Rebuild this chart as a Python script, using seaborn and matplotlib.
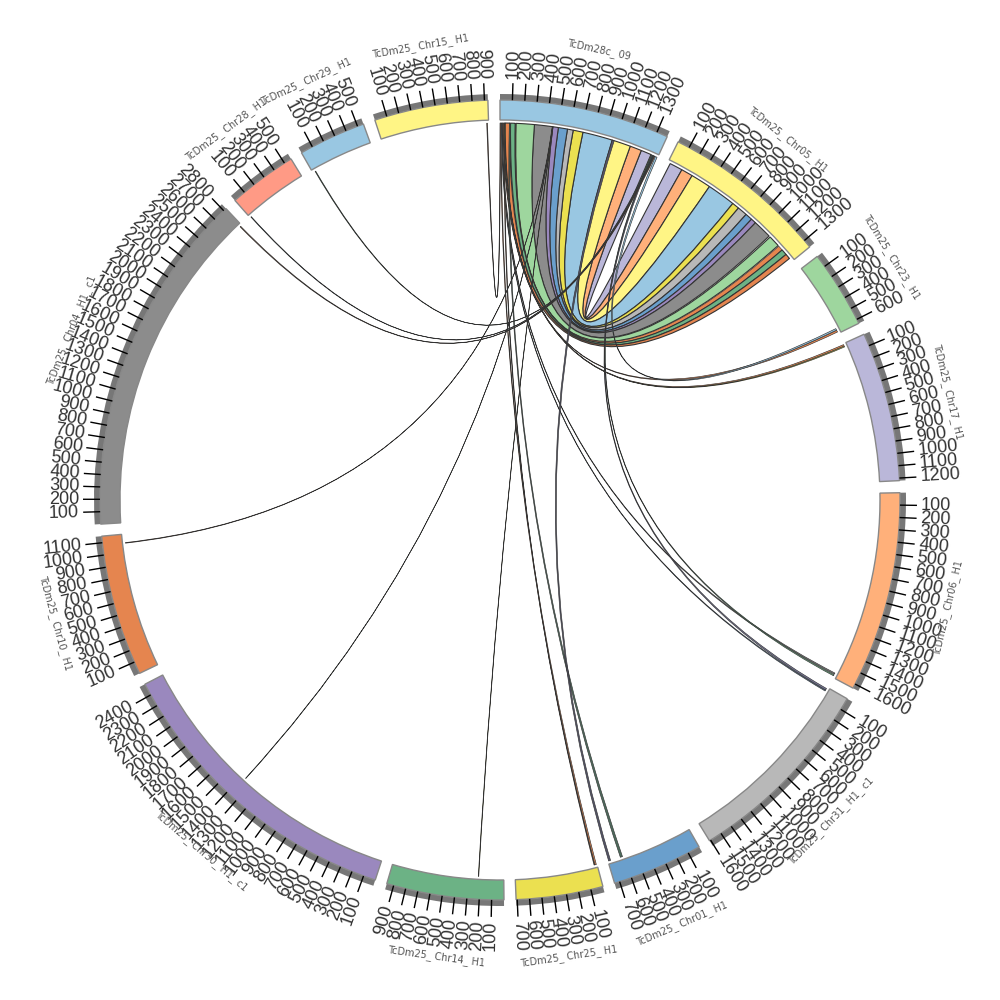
import numpy as np
import matplotlib
matplotlib.use("Agg")
import matplotlib.pyplot as plt
import seaborn as sns
from matplotlib.path import Path
from matplotlib.patches import PathPatch, Wedge
from matplotlib.collections import LineCollection

seg_names = ["TcDm28c_ 09", "TcDm25_ Chr05_ H1", "TcDm25_ Chr23_ H1", "TcDm25_ Chr17_ H1",
             "TcDm25_ Chr06_ H1", "TcDm25_ Chr31_ H1_ c1", "TcDm25_ Chr01_ H1", "TcDm25_ Chr25_ H1",
             "TcDm25_ Chr14_ H1", "TcDm25_ Chr30_ H1_ c1", "TcDm25_ Chr10_ H1", "TcDm25_ Chr04_ H1_ c1",
             "TcDm25_ Chr28_ H1", "TcDm25_ Chr29_ H1", "TcDm25_ Chr15_ H1"]
seg_lengths = [1390, 1367, 636, 1221, 1637, 1610, 743, 709, 957, 2498, 1153, 2825, 563, 551, 928]
seg_colors = ["#99C7E2", "#FFF585", "#9ED69E", "#BAB7D9", "#FFB07A", "#B8B8B8", "#6A9FCC", "#EBE050",
              "#6CB285", "#9A88BE", "#E5854F", "#8C8C8C", "#FF9A85", "#99C7E2", "#FFF585"]

# Links always start on TcDm28c_09 (segment 0)
src_start = [1238, 1137, 974, 715, 630, 580, 501, 453, 295, 137, 130, 90, 43,
             0, 5, 12, 18, 24, 30, 36, 80,
             974, 448, 450, 452,
             1330, 1337, 1344, 1351, 1358, 1370, 40]
src_end = [1328, 1238, 1137, 974, 715, 630, 580, 501, 453, 295, 137, 130, 84,
           5, 12, 18, 24, 30, 36, 43, 90,
           992, 451, 453, 455,
           1337, 1346, 1351, 1358, 1365, 1385, 43]
dst_seg = [1, 1, 1, 1, 1, 1, 1, 1, 1, 1, 1, 1, 1,
           14, 7, 5, 4, 2, 3, 7, 6,
           6, 10, 9, 8,
           4, 5, 13, 12, 11, 2, 3]
dst_start = [22, 135, 236, 411, 658, 720, 805, 867, 912, 1087, 1195, 1238, 1289,
             912, 6, 28, 1596, 606, 8, 20, 613,
             720, 1075, 1362, 214,
             1612, 12, 22, 8, 2806, 590, 22]
dst_end = [135, 236, 411, 658, 720, 805, 867, 912, 1075, 1187, 1238, 1289, 1334,
           918, 18, 36, 1606, 622, 22, 26, 632,
           737, 1080, 1365, 218,
           1622, 26, 28, 13, 2813, 604, 30]
link_colors = ["#BAB7D9", "#FFB07A", "#FFF585", "#99C7E2", "#EBE050", "#B8B8B8", "#6A9FCC", "#9A88BE",
               "#8C8C8C", "#9ED69E", "#E5854F", "#6CB285", "#E5854F",
               "#8C5A3C", "#E5854F", "#6A9FCC", "#8C8C8C", "#E5854F", "#E5854F", "#8C5A3C", "#4E6E5E",
               "#55556A", "#8C5A3C", "#3E7A55", "#9A9A30",
               "#6CB285", "#77779A", "#3E7A55", "#35607A", "#8C5A3C", "#99C7E2", "#EBE050"]

sns.set_theme(style="white")
palette = sns.color_palette(seg_colors)
fig = plt.figure(figsize=(10, 10), dpi=100)
ax = fig.add_axes([0, 0, 1, 1])
ax.set_xlim(-500, 500)
ax.set_ylim(-500, 500)
ax.axis("off")

GAP = 1.735
UNIT = (360 - GAP * len(seg_lengths)) / sum(seg_lengths)
R_LINK, R_IN, R_OUT, R_BAND, R_TICK = 377, 380, 400, 406, 417


def seg_start(i):
    return sum(seg_lengths[:i]) * UNIT + i * GAP


def angle(i, u):
    return seg_start(i) + u * UNIT


def xy(theta, r):
    t = np.deg2rad(theta)
    return np.array([r * np.sin(t), r * np.cos(t)])


for i, name in enumerate(seg_names):
    a0 = seg_start(i)
    a1 = a0 + seg_lengths[i] * UNIT
    ax.add_patch(Wedge((0, 0), R_BAND, 90 - a1, 90 - a0, width=R_BAND - R_OUT, fc="#777777", ec="none", zorder=2))
    ax.add_patch(Wedge((0, 0), R_OUT, 90 - a1, 90 - a0, width=R_OUT - R_IN, fc=palette[i], ec="#888888", lw=1, zorder=3))
    segs = []
    for u in range(100, seg_lengths[i], 100):
        th = angle(i, u)
        segs.append([xy(th, R_OUT), xy(th, R_TICK)])
        x, y = xy(th, 421)
        if th < 180:
            ax.text(x, y, str(u), rotation=90 - th, rotation_mode="anchor", ha="left", va="center",
                    fontsize=13, family="Liberation Sans", color="#333333", zorder=5)
        else:
            ax.text(x, y, str(u), rotation=270 - th, rotation_mode="anchor", ha="right", va="center",
                    fontsize=13, family="Liberation Sans", color="#333333", zorder=5)
    ax.add_collection(LineCollection(segs, colors="black", linewidths=1.0, zorder=4))
    mid = (a0 + a1) / 2
    x, y = xy(mid, 461)
    rot = 180 - mid if 90 < mid < 270 else -mid
    ax.text(x, y, name, rotation=rot, rotation_mode="anchor", ha="center", va="center",
            fontsize=7, color="#555555", zorder=5)


def bezier(th_a, th_b):
    diff = (th_b - th_a + 180) % 360 - 180
    rc = max(0.0, 28 - 0.28 * abs(diff))
    return xy(th_a + diff / 2, rc)


for k in range(len(src_start)):
    d = dst_seg[k]
    a1, a2 = angle(0, src_start[k]), angle(0, src_end[k])
    b1, b2 = angle(d, dst_start[k]), angle(d, dst_end[k])
    verts = [xy(a1, R_LINK)]
    codes = [Path.MOVETO]
    for th in np.linspace(a1, a2, 8)[1:]:
        verts.append(xy(th, R_LINK)); codes.append(Path.LINETO)
    verts += [bezier(a2, b1), xy(b1, R_LINK)]
    codes += [Path.CURVE3, Path.CURVE3]
    for th in np.linspace(b1, b2, 8)[1:]:
        verts.append(xy(th, R_LINK)); codes.append(Path.LINETO)
    verts += [bezier(b2, a1), xy(a1, R_LINK), xy(a1, R_LINK)]
    codes += [Path.CURVE3, Path.CURVE3, Path.CLOSEPOLY]
    wide = src_end[k] - src_start[k] > 30
    ax.add_patch(PathPatch(Path(np.array(verts), codes), fc=link_colors[k], ec="#333333",
                           lw=0.8 if wide else 0.45, zorder=1 + k * 0.01))

fig.savefig("out.png", dpi=100, facecolor="white")
